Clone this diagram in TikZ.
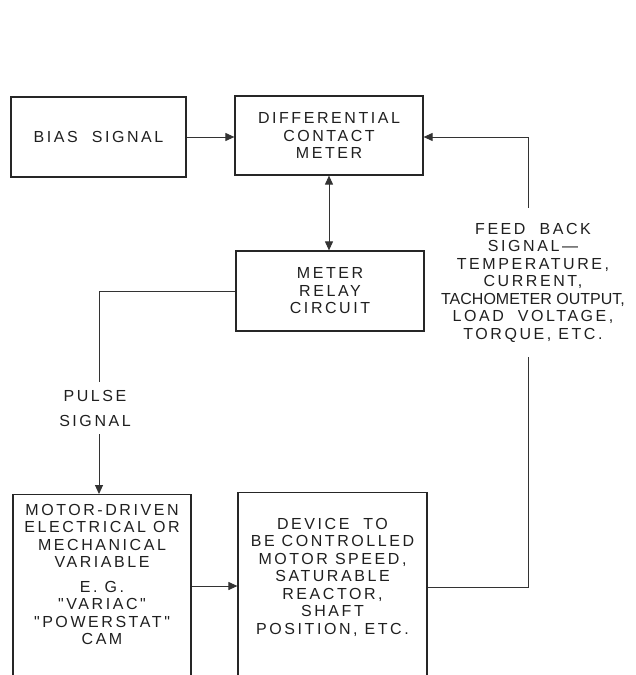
\documentclass[tikz,border=0pt]{standalone}
\usepackage{fontspec}
\newfontfamily\lettering{Liberation Sans}[LetterSpace=16]
\newfontfamily\tightlettering{Liberation Sans}[LetterSpace=0]
\usetikzlibrary{arrows.meta, positioning}

\begin{document}
\begin{tikzpicture}[x=1pt, y=-1pt,
  block/.style={draw=black!85, line width=1.2pt, inner sep=0pt},
  words/.style={align=center, inner sep=0pt, text=black!88,
    font=\lettering\fontsize{16}{17.5}\selectfont},
  wire/.style={draw=black!80, line width=1pt},
  tip/.style={wire, -{Triangle[length=9pt,width=8pt]}},
  twotip/.style={wire, {Triangle[length=9pt,width=8pt]}-{Triangle[length=9pt,width=8pt]}}]
  \useasboundingbox (0,0) rectangle (635,675);
  \clip (0,0) rectangle (635,675);
  % top row
  \node[block, words, minimum width=175, minimum height=80] (bias) at (98.5,137) {BIAS\ \ SIGNAL};
  \node[block, words, minimum width=188, minimum height=79] (diff) at (329,135.5) {DIFFERENTIAL\\CONTACT\\METER};
  \node[block, words, minimum width=188, minimum height=80] (relay) at (330,291) {METER\\RELAY\\CIRCUIT};
  % bottom row, cut off by the page edge
  \node[block, minimum width=178, minimum height=220, anchor=north] (motor) at (102,494) {};
  \node[block, minimum width=189, minimum height=220, anchor=north] (device) at (332.5,492) {};
  \node[words, anchor=north] (motortext) at ([yshift=-10pt]motor.north)
    {MOTOR-DRIVEN\\ELECTRICAL OR\\MECHANICAL\\VARIABLE\\[7pt]E. G.\\"VARIAC"\\"POWERSTAT"\\CAM};
  \node[words, anchor=north] (devicetext) at ([yshift=-26pt]device.north)
    {DEVICE\ \ TO\\BE CONTROLLED\\MOTOR SPEED,\\SATURABLE\\REACTOR,\\SHAFT\\POSITION, ETC.};
  % signal labels
  \node[words, inner ysep=8pt] (pulse) at (95,408) {PULSE\\[7.5pt]SIGNAL};
  \node[words, inner ysep=15pt] (fbtext) at (533,282.5)
    {FEED\ \ BACK\\SIGNAL\,\textemdash\\TEMPERATURE,\\CURRENT,\\{\tightlettering TACHOMETER OUTPUT,}\\LOAD\ \ VOLTAGE,\\TORQUE, ETC.};
  \coordinate (pulsecorner) at (99,293);
  \coordinate (fbtop) at (528,137);
  \coordinate (fbbot) at (528,587);
  \coordinate (drive) at (191,586);

  \draw[tip] (bias.east) -- (bias.east -| diff.west);
  \draw[twotip] (diff.south) -- (diff.south |- relay.north);
  \draw[wire] (relay.west) -| (pulsecorner |- pulse.north);
  \draw[tip] (pulsecorner |- pulse.south) -- (pulsecorner |- motor.north);
  \draw[tip] (motor.east |- drive) -- (device.west |- drive);
  \draw[wire] (device.east |- fbbot) -- (fbbot) -- (fbbot |- fbtext.south);
  \draw[tip] (fbbot |- fbtext.north) -- (fbtop) -- (diff.east |- fbtop);
\end{tikzpicture}
\end{document}
